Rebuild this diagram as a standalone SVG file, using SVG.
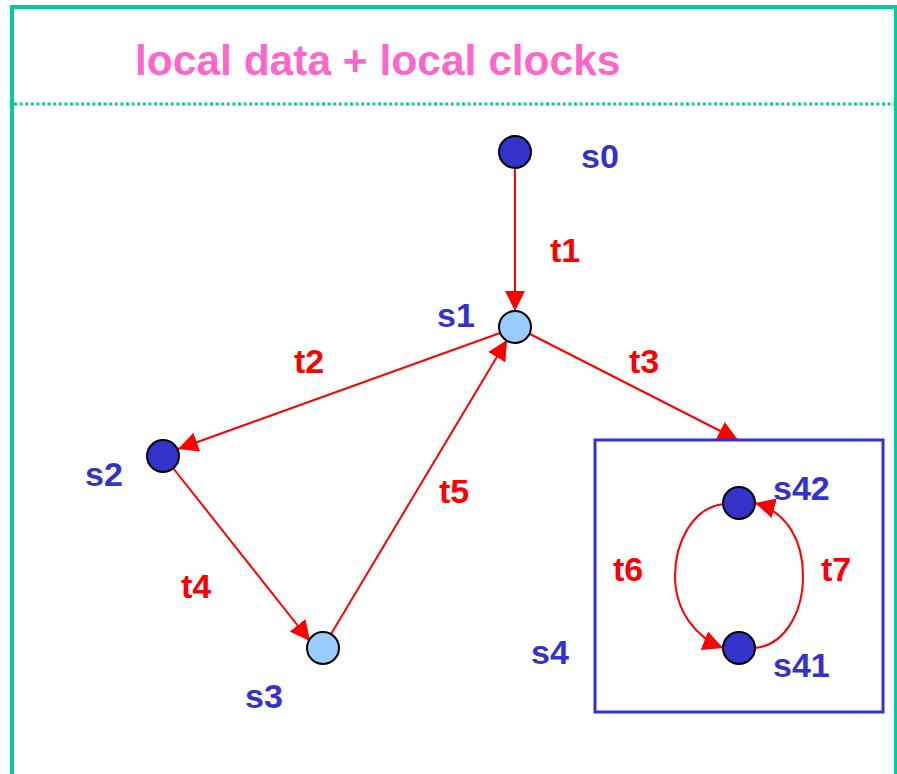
<svg xmlns="http://www.w3.org/2000/svg" width="897" height="774" viewBox="0 0 897 774">
<style>
.node-dark{fill:#3333CC;stroke:#000;stroke-width:2}
.node-light{fill:#99CCFF;stroke:#000;stroke-width:2}
.lbl{font-family:"Liberation Sans",Arial,sans-serif;font-weight:bold;font-size:34px;fill:#3333CC}
.tl{font-family:"Liberation Sans",Arial,sans-serif;font-weight:bold;font-size:34px;fill:#FF0000}
.edge{stroke:#FF0000;stroke-width:2;fill:none;marker-end:url(#arr)}
</style>
<defs>
<marker id="arr" markerUnits="userSpaceOnUse" markerWidth="20" markerHeight="20" viewBox="0 0 20 20" refX="20" refY="10" orient="auto">
<path d="M0,0 L20,10 L0,20 Z" fill="#FF0000"/>
</marker>
</defs>
<rect x="0" y="0" width="897" height="774" fill="#FFFFFF"/>
<g id="frame">
<rect x="12" y="7" width="884" height="800" fill="none" stroke="#00CC99" stroke-width="4"/>
<line x1="14" y1="104" x2="897" y2="104" stroke="#00CC99" stroke-width="3" stroke-dasharray="3 2.6"/>
<text x="135" y="75" font-family="'Liberation Sans',Arial,sans-serif" font-weight="bold" font-size="42.5" fill="#FF66CC">local data + local clocks</text>
</g>
<g id="connectors">
<g id="t1"><line class="edge" x1="515" y1="168" x2="515" y2="311"/><text class="tl" x="550" y="262">t1</text></g>
<g id="t2"><line class="edge" x1="500" y1="333" x2="178" y2="449"/><text class="tl" x="294" y="373">t2</text></g>
<g id="t3"><line class="edge" x1="530" y1="334" x2="738" y2="440"/><text class="tl" x="629" y="373">t3</text></g>
<g id="t4"><line class="edge" x1="173" y1="468" x2="310" y2="641"/><text class="tl" x="181" y="598">t4</text></g>
<g id="t5"><line class="edge" x1="331" y1="634" x2="507" y2="340"/><text class="tl" x="439" y="503">t5</text></g>
<g id="t6"><path class="edge" d="M723,504 C692,508 675,543 675,576 C675,610 695,637 723,648"/><text class="tl" x="613" y="581">t6</text></g>
<g id="t7"><path class="edge" d="M755,648 C785,645 803,612 803,576 C803,542 788,512 755,503"/><text class="tl" x="821" y="581">t7</text></g>
</g>
<g id="s0"><circle class="node-dark" cx="515" cy="152" r="16"/><text class="lbl" x="581" y="168">s0</text></g>
<g id="s1"><circle class="node-light" cx="515" cy="327" r="16"/><text class="lbl" x="437" y="327">s1</text></g>
<g id="s2"><circle class="node-dark" cx="163" cy="456" r="16"/><text class="lbl" x="85" y="486">s2</text></g>
<g id="s3"><circle class="node-light" cx="323" cy="648" r="16"/><text class="lbl" x="245" y="708">s3</text></g>
<g id="s4"><rect x="595" y="440" width="288" height="272" fill="none" stroke="#3333CC" stroke-width="3"/><text class="lbl" x="531" y="664">s4</text></g>
<g id="s42"><circle class="node-dark" cx="739" cy="503" r="16"/><text class="lbl" x="773" y="500">s42</text></g>
<g id="s41"><circle class="node-dark" cx="739" cy="648" r="16"/><text class="lbl" x="773" y="677">s41</text></g>
</svg>
